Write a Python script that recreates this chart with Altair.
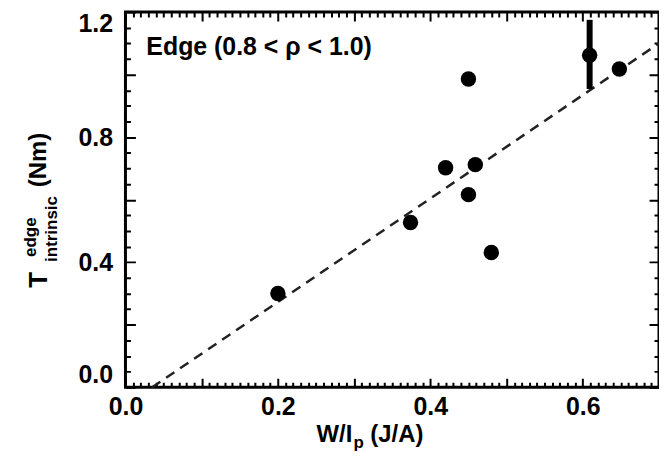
import altair as alt
import pandas as pd

# ---- data ----
w_over_ip = [0.20, 0.374, 0.42, 0.45, 0.459, 0.45, 0.48, 0.609, 0.648]
torque_edge = [0.30, 0.527, 0.702, 0.616, 0.712, 0.986, 0.431, 1.062, 1.018]

err_x = [0.609]
err_lo = [0.954]
err_hi = [1.175]

fit_x = [0.035, 0.70]
fit_y = [0.0, 1.10]

# tick positions (minor); majors and labels are picked out by expressions
x_ticks = [round(i * 0.01, 2) for i in range(71)]
y_ticks = [round(i * 0.05, 2) for i in range(25)]

W, H = 536, 377
FONT = "Liberation Sans"

pts = pd.DataFrame({"x": w_over_ip, "y": torque_edge})
err = pd.DataFrame({"x": err_x, "lo": err_lo, "hi": err_hi})
fit = pd.DataFrame({"x": fit_x, "y": fit_y})

xs = alt.Scale(domain=[0, 0.7], nice=False, zero=False)
ys = alt.Scale(domain=[0, 1.2], nice=False, zero=False)

x_major_test = "abs(datum.value*10 - round(datum.value*10)) < 0.01"
x_label_test = "abs(datum.value*5 - round(datum.value*5)) < 0.01"
y_major_test = "abs(datum.value*5 - round(datum.value*5)) < 0.01"
y_label_test = "abs(datum.value*2.5 - round(datum.value*2.5)) < 0.01"

# inward ticks on both edges are drawn as short dashes of the grid lines
x_axis = alt.Axis(
    orient="bottom", values=x_ticks, ticks=False, domain=False,
    grid=True, gridColor="black", gridOpacity=1, gridWidth=2,
    gridDash={"condition": {"test": x_major_test, "value": [9, H - 18]},
              "value": [5, H - 10]},
    labelExpr=f"({x_label_test}) ? format(datum.value, '.1f') : ''",
    labelOverlap=False, labelFlush=False, labelFont=FONT, labelFontSize=25,
    labelFontWeight="bold", labelColor="black", labelPadding=7, title=None)
y_axis = alt.Axis(
    orient="left", values=y_ticks, ticks=False, domain=False,
    grid=True, gridColor="black", gridOpacity=1, gridWidth=2,
    gridDash={"condition": {"test": y_major_test, "value": [10, W - 20]},
              "value": [5, W - 10]},
    labelExpr=f"({y_label_test}) ? format(datum.value, '.1f') : ''",
    labelOverlap=False, labelFlush=True, labelFont=FONT, labelFontSize=25,
    labelFontWeight="bold", labelColor="black", labelPadding=13, title=None)

axis_layer = alt.Chart(pts).mark_point(opacity=0).encode(
    x=alt.X("x:Q", scale=xs, axis=x_axis),
    y=alt.Y("y:Q", scale=ys, axis=y_axis),
)

line = alt.Chart(fit).mark_line(color="#222222", strokeWidth=2.5, strokeDash=[10, 7]).encode(
    x=alt.X("x:Q", scale=xs, axis=None),
    y=alt.Y("y:Q", scale=ys, axis=None),
)
bar = alt.Chart(err).mark_rule(color="black", strokeWidth=6).encode(
    x=alt.X("x:Q", scale=xs, axis=None),
    y=alt.Y("lo:Q", scale=ys, axis=None),
    y2="hi:Q",
)
dots = alt.Chart(pts).mark_circle(color="black", opacity=1, size=240).encode(
    x=alt.X("x:Q", scale=xs, axis=None),
    y=alt.Y("y:Q", scale=ys, axis=None),
)


def label(text, x, y, size, angle=0, weight="bold"):
    kw = dict(text=text, font=FONT, fontSize=size, fontWeight=weight,
              color="black", align="left", baseline="alphabetic")
    if angle:
        kw["angle"] = angle
    return alt.Chart(pd.DataFrame({"a": [0]})).mark_text(**kw).encode(
        x=alt.value(x), y=alt.value(y))


texts = [
    label("Edge (0.8 < ρ < 1.0)", 21, 43, 25),
    label("W/I", 192, 432, 24),
    label("p", 229, 438, 17),
    label("(J/A)", 246, 432, 24),
    label("T", -79, 277, 26, 270),
    label("edge", -90, 246, 17, 270),
    label("intrinsic", -69, 251, 17, 270),
    label("(Nm)", -80, 176, 24, 270),
]

chart = alt.layer(
    axis_layer, line, bar, dots, *texts
).resolve_axis(x="independent", y="independent").properties(
    width=W, height=H,
    autosize=alt.AutoSizeParams(type="none"),
    padding={"left": 118, "top": 3, "right": 0, "bottom": 75},
).configure_view(stroke="black", strokeWidth=3)

chart.save("out.html", embed_options={"renderer": "svg", "actions": False})
